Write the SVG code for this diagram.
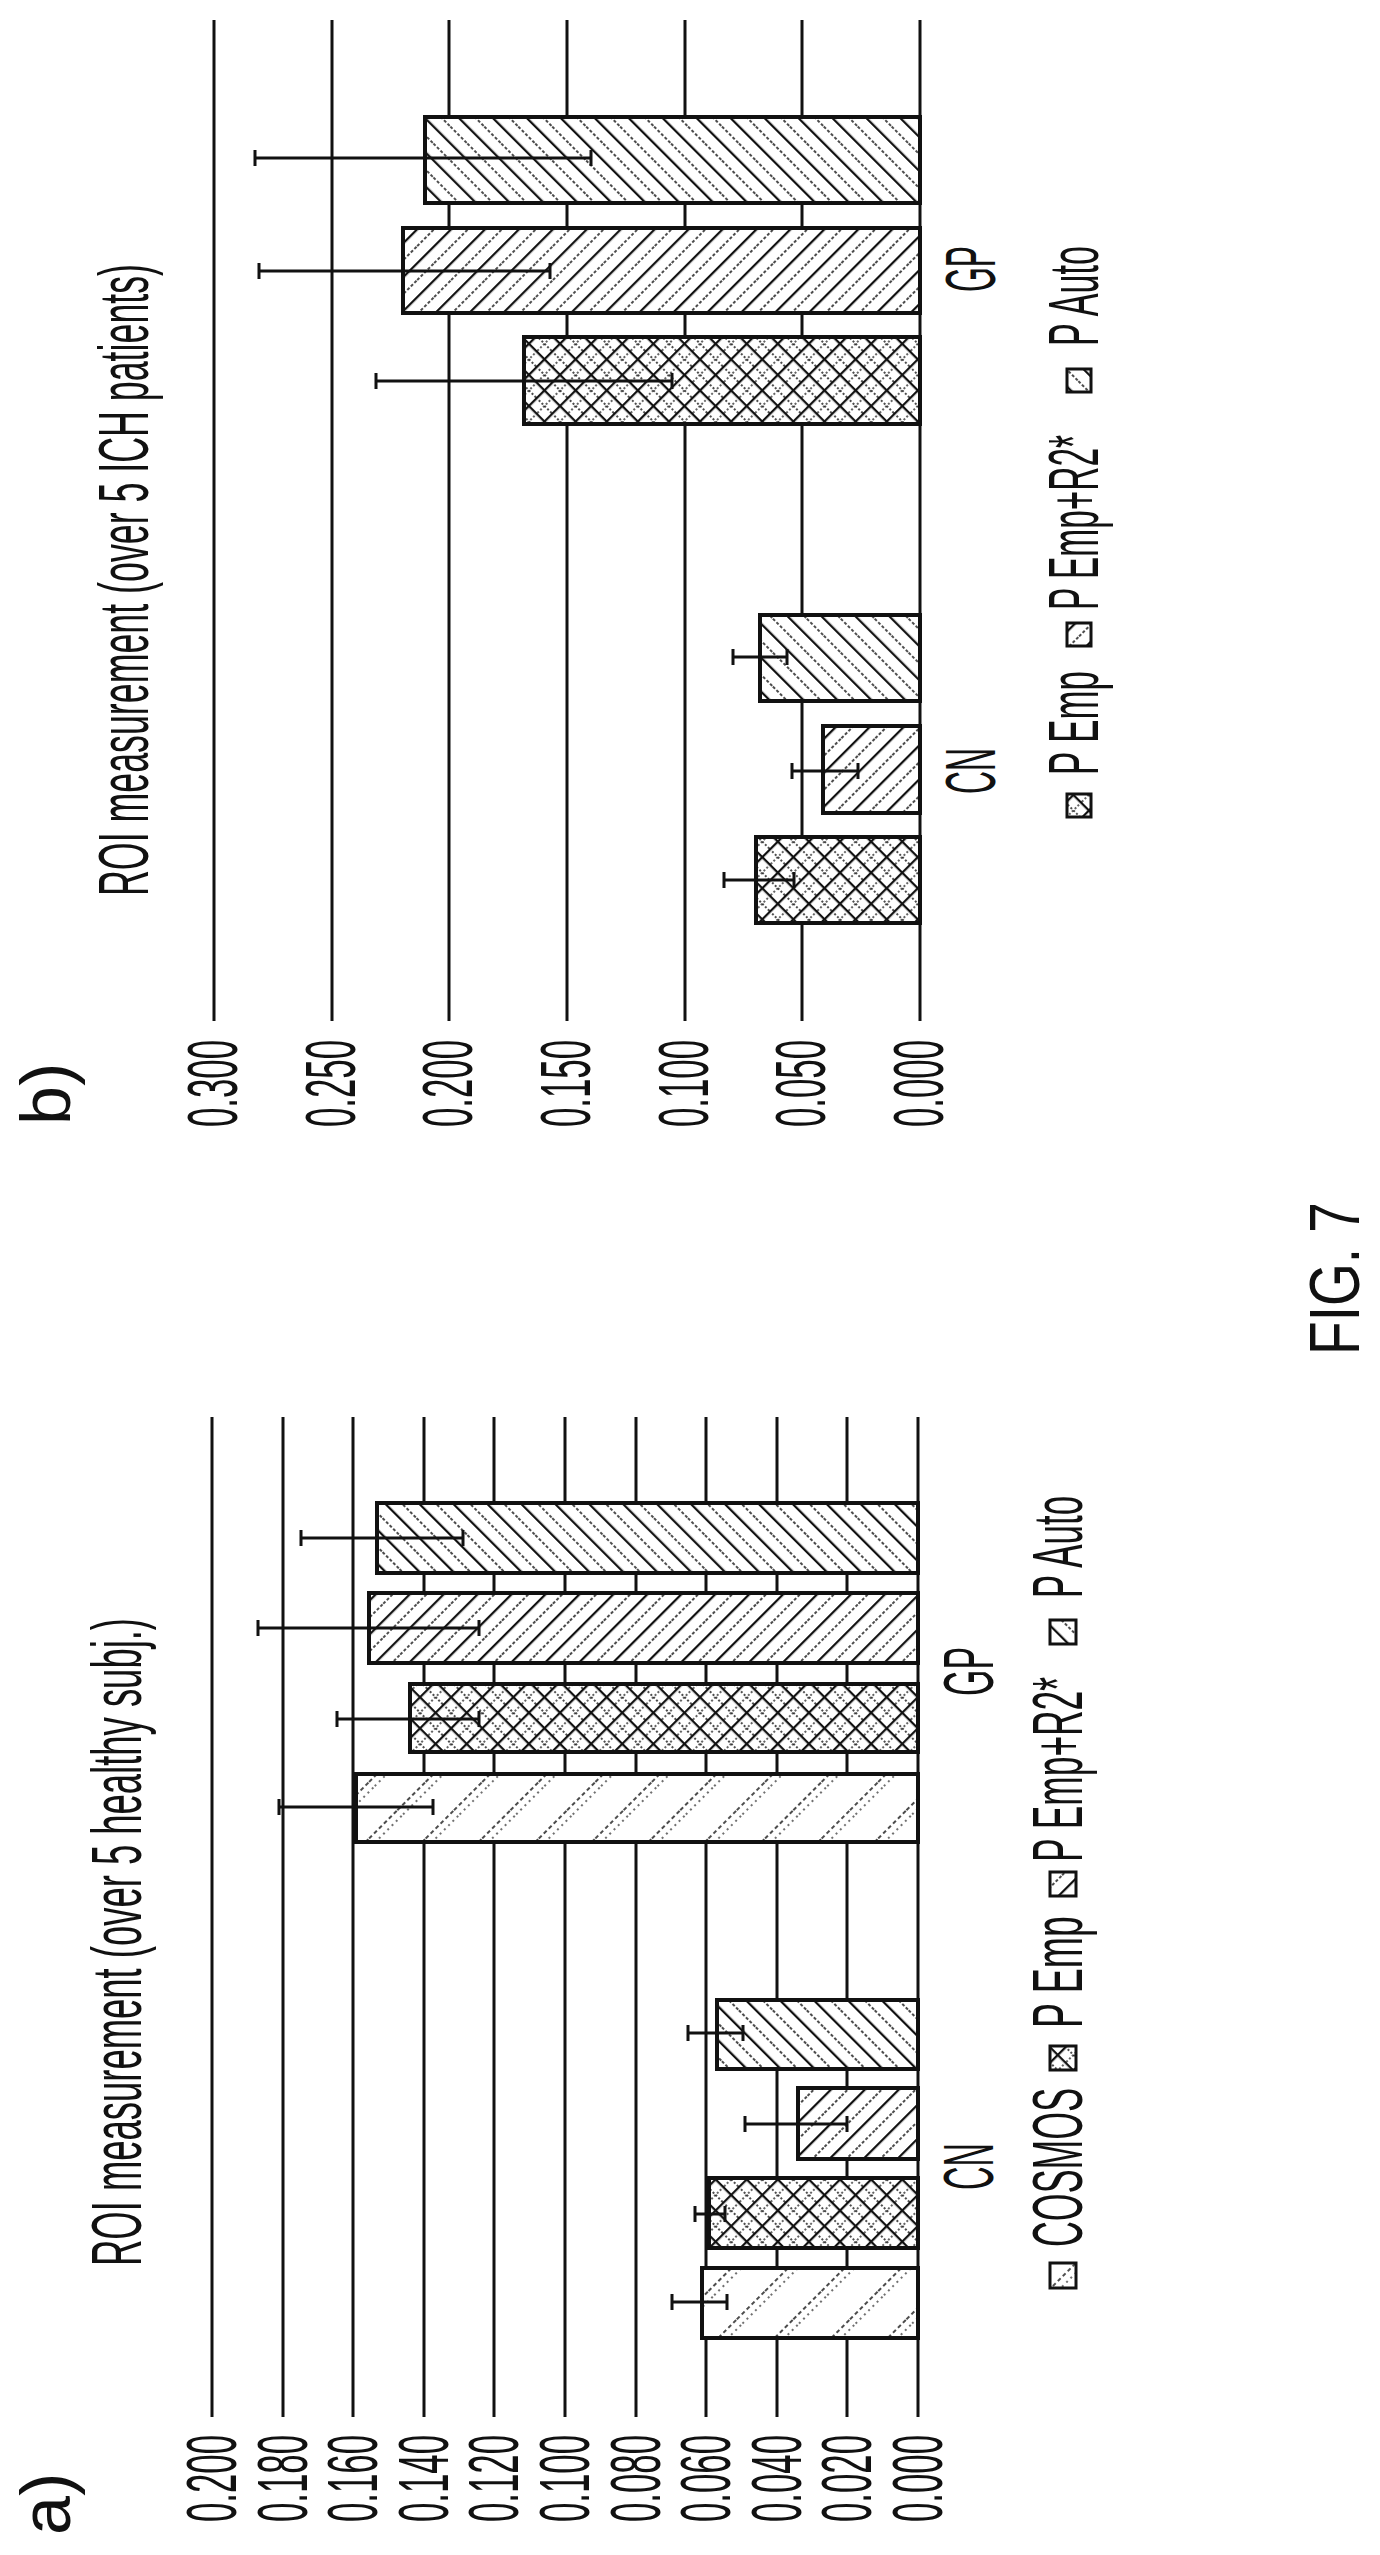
<svg xmlns="http://www.w3.org/2000/svg" width="1380" height="2555" viewBox="0 0 1380 2555">
<style>
text{font-family:"Liberation Sans",Arial,sans-serif;fill:#111;font-size:70px}
.grid{stroke:#111;stroke-width:3}
.bar{stroke:#111;stroke-width:4}
.err{stroke:#111;stroke-width:3;fill:none}
</style>
<defs>
<pattern id="pAuto" width="24" height="24" patternUnits="userSpaceOnUse" patternTransform="rotate(-45)">
<rect width="24" height="24" fill="#fff"/><line x1="1" y1="0" x2="1" y2="24" stroke="#111" stroke-width="2.5"/><line x1="13" y1="0" x2="13" y2="24" stroke="#111" stroke-width="1.5" stroke-dasharray="3 2"/></pattern>
<pattern id="pR2" width="24" height="24" patternUnits="userSpaceOnUse" patternTransform="rotate(45)">
<rect width="24" height="24" fill="#fff"/><line x1="1" y1="0" x2="1" y2="24" stroke="#111" stroke-width="2.5"/><line x1="13" y1="0" x2="13" y2="24" stroke="#111" stroke-width="1.5" stroke-dasharray="3 2"/></pattern>
<pattern id="pEmp" width="22" height="22" patternUnits="userSpaceOnUse" patternTransform="rotate(45)">
<rect width="22" height="22" fill="#fff"/><line x1="1" y1="0" x2="1" y2="22" stroke="#111" stroke-width="2.5"/><line x1="0" y1="1" x2="22" y2="1" stroke="#111" stroke-width="2.5"/><line x1="12" y1="0" x2="12" y2="22" stroke="#111" stroke-width="1.3" stroke-dasharray="2 2"/><line x1="0" y1="12" x2="22" y2="12" stroke="#111" stroke-width="1.3" stroke-dasharray="2 2"/></pattern>
<pattern id="pCos" width="40" height="40" patternUnits="userSpaceOnUse" patternTransform="rotate(45)">
<rect width="40" height="40" fill="#fff"/><line x1="1" y1="0" x2="1" y2="40" stroke="#111" stroke-width="1.5" stroke-dasharray="4 3"/><line x1="8" y1="0" x2="8" y2="40" stroke="#111" stroke-width="1.2" stroke-dasharray="2 4"/></pattern>
</defs>
<rect width="1380" height="2555" fill="#fff"/>

<!-- Chart b -->
<g id="chart-b-grid" class="grid">
<line x1="214" y1="20" x2="214" y2="1021"/><line x1="332" y1="20" x2="332" y2="1021"/><line x1="449" y1="20" x2="449" y2="1021"/><line x1="567" y1="20" x2="567" y2="1021"/><line x1="685" y1="20" x2="685" y2="1021"/><line x1="802" y1="20" x2="802" y2="1021"/><line x1="920" y1="20" x2="920" y2="1021"/>
</g>
<g id="chart-b-bars" class="bar">
<rect x="425" y="117" width="495" height="86" fill="url(#pAuto)"/>
<rect x="403" y="228" width="517" height="85" fill="url(#pR2)"/>
<rect x="524" y="337" width="396" height="87" fill="url(#pEmp)"/>
<rect x="760" y="615" width="160" height="86" fill="url(#pAuto)"/>
<rect x="823" y="726" width="97" height="87" fill="url(#pR2)"/>
<rect x="756" y="837" width="164" height="86" fill="url(#pEmp)"/>
</g>
<g id="chart-b-errors" class="err">
<path d="M255 158H591M255 150V166M591 150V166"/>
<path d="M259 271H550M259 263V279M550 263V279"/>
<path d="M376 381H672M376 373V389M672 373V389"/>
<path d="M733 657H787M733 649V665M787 649V665"/>
<path d="M792 771H858M792 763V779M858 763V779"/>
<path d="M724 880H794M724 872V888M794 872V888"/>
</g>
<g id="chart-b-text">
<text transform="translate(70,1125) rotate(-90)" font-size="46">b)</text>
<text transform="translate(148,896) rotate(-90)" textLength="632" lengthAdjust="spacingAndGlyphs">ROI measurement (over 5 ICH patients)</text>
<text transform="translate(237,1127) rotate(-90)" textLength="87" lengthAdjust="spacingAndGlyphs">0.300</text>
<text transform="translate(355,1127) rotate(-90)" textLength="87" lengthAdjust="spacingAndGlyphs">0.250</text>
<text transform="translate(472,1127) rotate(-90)" textLength="87" lengthAdjust="spacingAndGlyphs">0.200</text>
<text transform="translate(590,1127) rotate(-90)" textLength="87" lengthAdjust="spacingAndGlyphs">0.150</text>
<text transform="translate(708,1127) rotate(-90)" textLength="87" lengthAdjust="spacingAndGlyphs">0.100</text>
<text transform="translate(825,1127) rotate(-90)" textLength="87" lengthAdjust="spacingAndGlyphs">0.050</text>
<text transform="translate(943,1127) rotate(-90)" textLength="87" lengthAdjust="spacingAndGlyphs">0.000</text>
<text transform="translate(995,794) rotate(-90)" textLength="46" lengthAdjust="spacingAndGlyphs">CN</text>
<text transform="translate(995,292) rotate(-90)" textLength="46" lengthAdjust="spacingAndGlyphs">GP</text>
</g>
<g id="legend-b">
<rect x="1067" y="794" width="24" height="23" fill="url(#pEmp)" stroke="#111" stroke-width="3"/>
<text transform="translate(1098,775) rotate(-90)" textLength="104" lengthAdjust="spacingAndGlyphs">P Emp</text>
<rect x="1067" y="623" width="24" height="23" fill="url(#pR2)" stroke="#111" stroke-width="3"/>
<text transform="translate(1098,610) rotate(-90)" textLength="175" lengthAdjust="spacingAndGlyphs">P Emp+R2*</text>
<rect x="1067" y="369" width="24" height="23" fill="url(#pAuto)" stroke="#111" stroke-width="3"/>
<text transform="translate(1098,346) rotate(-90)" textLength="100" lengthAdjust="spacingAndGlyphs">P Auto</text>
</g>

<text id="fig-label" transform="translate(1359,1355) rotate(-90)" textLength="153" lengthAdjust="spacingAndGlyphs">FIG. 7</text>

<!-- Chart a -->
<g id="chart-a-grid" class="grid">
<line x1="212" y1="1417" x2="212" y2="2417"/><line x1="283" y1="1417" x2="283" y2="2417"/><line x1="353" y1="1417" x2="353" y2="2417"/><line x1="424" y1="1417" x2="424" y2="2417"/><line x1="494" y1="1417" x2="494" y2="2417"/><line x1="565" y1="1417" x2="565" y2="2417"/><line x1="636" y1="1417" x2="636" y2="2417"/><line x1="706" y1="1417" x2="706" y2="2417"/><line x1="777" y1="1417" x2="777" y2="2417"/><line x1="847" y1="1417" x2="847" y2="2417"/><line x1="918" y1="1417" x2="918" y2="2417"/>
</g>
<g id="chart-a-bars" class="bar">
<rect x="377" y="1503" width="541" height="70" fill="url(#pAuto)"/>
<rect x="369" y="1593" width="549" height="70" fill="url(#pR2)"/>
<rect x="410" y="1684" width="508" height="68" fill="url(#pEmp)"/>
<rect x="356" y="1774" width="562" height="68" fill="url(#pCos)"/>
<rect x="717" y="2000" width="201" height="69" fill="url(#pAuto)"/>
<rect x="798" y="2088" width="120" height="71" fill="url(#pR2)"/>
<rect x="709" y="2178" width="209" height="70" fill="url(#pEmp)"/>
<rect x="702" y="2268" width="216" height="70" fill="url(#pCos)"/>
</g>
<g id="chart-a-errors" class="err">
<path d="M301 1538H463M301 1530V1546M463 1530V1546"/>
<path d="M258 1628H479M258 1620V1636M479 1620V1636"/>
<path d="M337 1719H479M337 1711V1727M479 1711V1727"/>
<path d="M279 1807H433M279 1799V1815M433 1799V1815"/>
<path d="M688 2033H743M688 2025V2041M743 2025V2041"/>
<path d="M745 2124H847M745 2116V2132M847 2116V2132"/>
<path d="M695 2214H725M695 2206V2222M725 2206V2222"/>
<path d="M672 2302H727M672 2294V2310M727 2294V2310"/>
</g>
<g id="chart-a-text">
<text transform="translate(70,2535) rotate(-90)" font-size="46">a)</text>
<text transform="translate(141,2266) rotate(-90)" textLength="648" lengthAdjust="spacingAndGlyphs">ROI measurement (over 5 healthy subj.)</text>
<text transform="translate(236,2522) rotate(-90)" textLength="87" lengthAdjust="spacingAndGlyphs">0.200</text>
<text transform="translate(307,2522) rotate(-90)" textLength="87" lengthAdjust="spacingAndGlyphs">0.180</text>
<text transform="translate(377,2522) rotate(-90)" textLength="87" lengthAdjust="spacingAndGlyphs">0.160</text>
<text transform="translate(448,2522) rotate(-90)" textLength="87" lengthAdjust="spacingAndGlyphs">0.140</text>
<text transform="translate(518,2522) rotate(-90)" textLength="87" lengthAdjust="spacingAndGlyphs">0.120</text>
<text transform="translate(589,2522) rotate(-90)" textLength="87" lengthAdjust="spacingAndGlyphs">0.100</text>
<text transform="translate(660,2522) rotate(-90)" textLength="87" lengthAdjust="spacingAndGlyphs">0.080</text>
<text transform="translate(730,2522) rotate(-90)" textLength="87" lengthAdjust="spacingAndGlyphs">0.060</text>
<text transform="translate(801,2522) rotate(-90)" textLength="87" lengthAdjust="spacingAndGlyphs">0.040</text>
<text transform="translate(871,2522) rotate(-90)" textLength="87" lengthAdjust="spacingAndGlyphs">0.020</text>
<text transform="translate(942,2522) rotate(-90)" textLength="87" lengthAdjust="spacingAndGlyphs">0.000</text>
<text transform="translate(993,2190) rotate(-90)" textLength="47" lengthAdjust="spacingAndGlyphs">CN</text>
<text transform="translate(993,1696) rotate(-90)" textLength="49" lengthAdjust="spacingAndGlyphs">GP</text>
</g>
<g id="legend-a">
<rect x="1050" y="2263" width="26" height="25" fill="url(#pCos)" stroke="#111" stroke-width="3"/>
<text transform="translate(1082,2247) rotate(-90)" textLength="159" lengthAdjust="spacingAndGlyphs">COSMOS</text>
<rect x="1050" y="2046" width="26" height="24" fill="url(#pEmp)" stroke="#111" stroke-width="3"/>
<text transform="translate(1082,2028) rotate(-90)" textLength="112" lengthAdjust="spacingAndGlyphs">P Emp</text>
<rect x="1050" y="1872" width="26" height="24" fill="url(#pR2)" stroke="#111" stroke-width="3"/>
<text transform="translate(1082,1862) rotate(-90)" textLength="185" lengthAdjust="spacingAndGlyphs">P Emp+R2*</text>
<rect x="1050" y="1620" width="26" height="24" fill="url(#pAuto)" stroke="#111" stroke-width="3"/>
<text transform="translate(1082,1598) rotate(-90)" textLength="102" lengthAdjust="spacingAndGlyphs">P Auto</text>
</g>
</svg>
